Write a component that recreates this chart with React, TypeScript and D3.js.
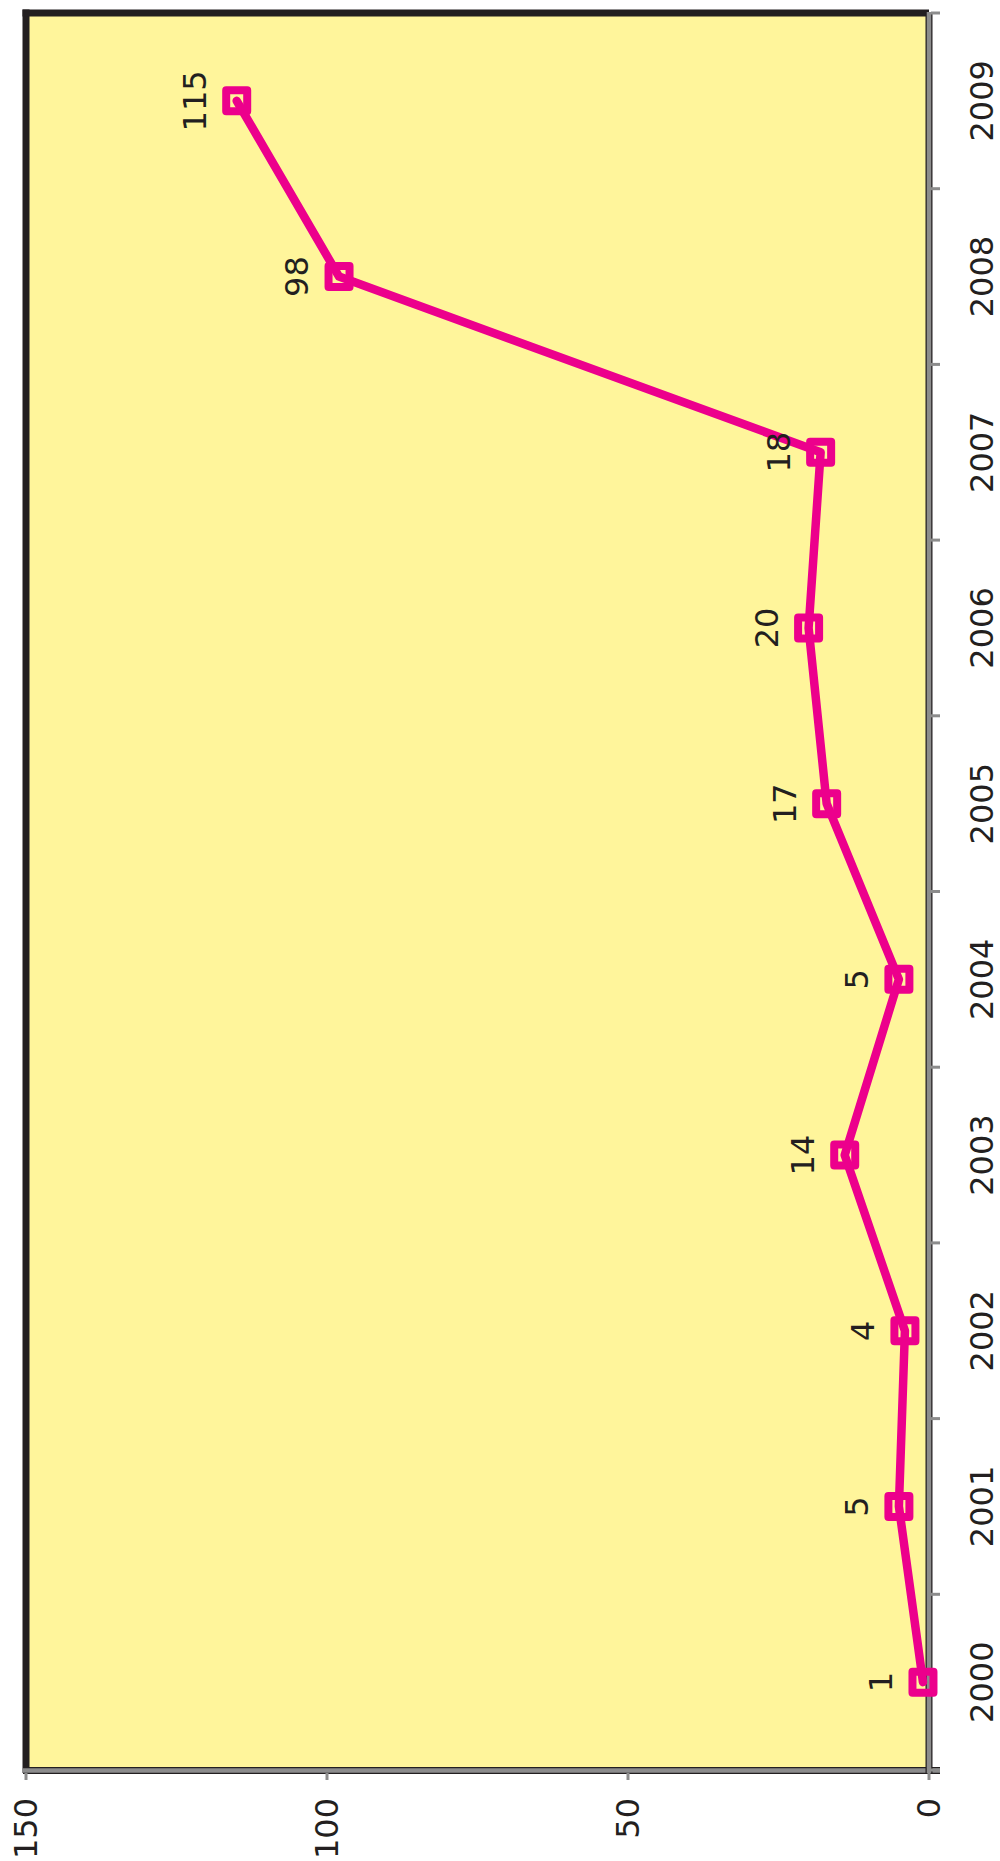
import React from "react";
import * as d3 from "d3";

const years = ["2000", "2001", "2002", "2003", "2004", "2005", "2006", "2007", "2008", "2009"];
const values = [1, 5, 4, 14, 5, 17, 20, 18, 98, 115];
const valueTicks = [0, 50, 100, 150];

export default function App() {
  // Chart drawn in an unrotated frame, then rotated -90deg.
  const W = 1757; // category axis length
  const H = 903; // value axis length
  const x = d3.scaleBand<string>().domain(years).range([0, W]).padding(0);
  const y = d3.scaleLinear().domain([0, 150]).range([H, 0]);
  const cx = (c: string) => (x(c) as number) + x.bandwidth() / 2;
  const line = d3
    .line<number>()
    .x((_, i) => cx(years[i]))
    .y((d) => y(d));
  const font = "'DejaVu Sans', Verdana, sans-serif";
  const txt = "#231f20";
  const gray = "#8c8c8c";
  const ms = 21;

  return (
    <svg
      width={1000}
      height={1861}
      style={{ position: "absolute", left: 0, top: 0, background: "#ffffff" }}
    >
      <g transform="translate(26,1770) rotate(-90)">
        <rect x={0} y={0} width={W} height={H} fill="#fff59b" stroke={txt} strokeWidth={1.5} />
        {/* thick borders (original top & right) */}
        <line x1={-3} y1={0} x2={W + 3.5} y2={0} stroke={txt} strokeWidth={7} />
        <line x1={W} y1={-3.5} x2={W} y2={H} stroke={txt} strokeWidth={7} />
        {/* value axis (original left) */}
        <line x1={-0.5} y1={-3} x2={-0.5} y2={H + 11} stroke={txt} strokeWidth={7} />
        <line x1={-0.5} y1={-3} x2={-0.5} y2={H + 11} stroke={gray} strokeWidth={4.5} />
        {valueTicks.map((t) => (
          <g key={"vt" + t}>
            <line x1={-3} y1={y(t)} x2={-10} y2={y(t)} stroke={gray} strokeWidth={3} />
            <text
              x={-28}
              y={y(t)}
              textAnchor="end"
              dominantBaseline="central"
              fontFamily={font}
              fontSize={32}
              fill={txt}
            >
              {t}
            </text>
          </g>
        ))}
        {/* category axis (original bottom) */}
        <line x1={-3} y1={H} x2={W + 1} y2={H} stroke={txt} strokeWidth={7} />
        <line x1={-3} y1={H} x2={W + 1} y2={H} stroke={gray} strokeWidth={4.5} />
        {d3.range(years.length + 1).map((i) => (
          <line
            key={"ct" + i}
            x1={i * x.bandwidth()}
            y1={H + 2}
            x2={i * x.bandwidth()}
            y2={H + 11}
            stroke={gray}
            strokeWidth={3}
          />
        ))}
        {years.map((c) => (
          <text
            key={"cl" + c}
            x={cx(c)}
            y={H + 64}
            textAnchor="middle"
            fontFamily={font}
            fontSize={32}
            fill={txt}
          >
            {c}
          </text>
        ))}
        {/* series */}
        <path
          d={line(values) as string}
          fill="none"
          stroke="#ec008c"
          strokeWidth={8.5}
          strokeLinejoin="round"
          strokeLinecap="round"
        />
        {values.map((v, i) => (
          <rect
            key={"m" + i}
            x={cx(years[i]) - ms / 2}
            y={y(v) - ms / 2}
            width={ms}
            height={ms}
            fill="none"
            stroke="#ec008c"
            strokeWidth={8}
            strokeLinejoin="round"
          />
        ))}
        {values.map((v, i) => (
          <text
            key={"dl" + i}
            x={cx(years[i])}
            y={y(v) - 31}
            textAnchor="middle"
            fontFamily={font}
            fontSize={32}
            fill={txt}
          >
            {v}
          </text>
        ))}
      </g>
    </svg>
  );
}
